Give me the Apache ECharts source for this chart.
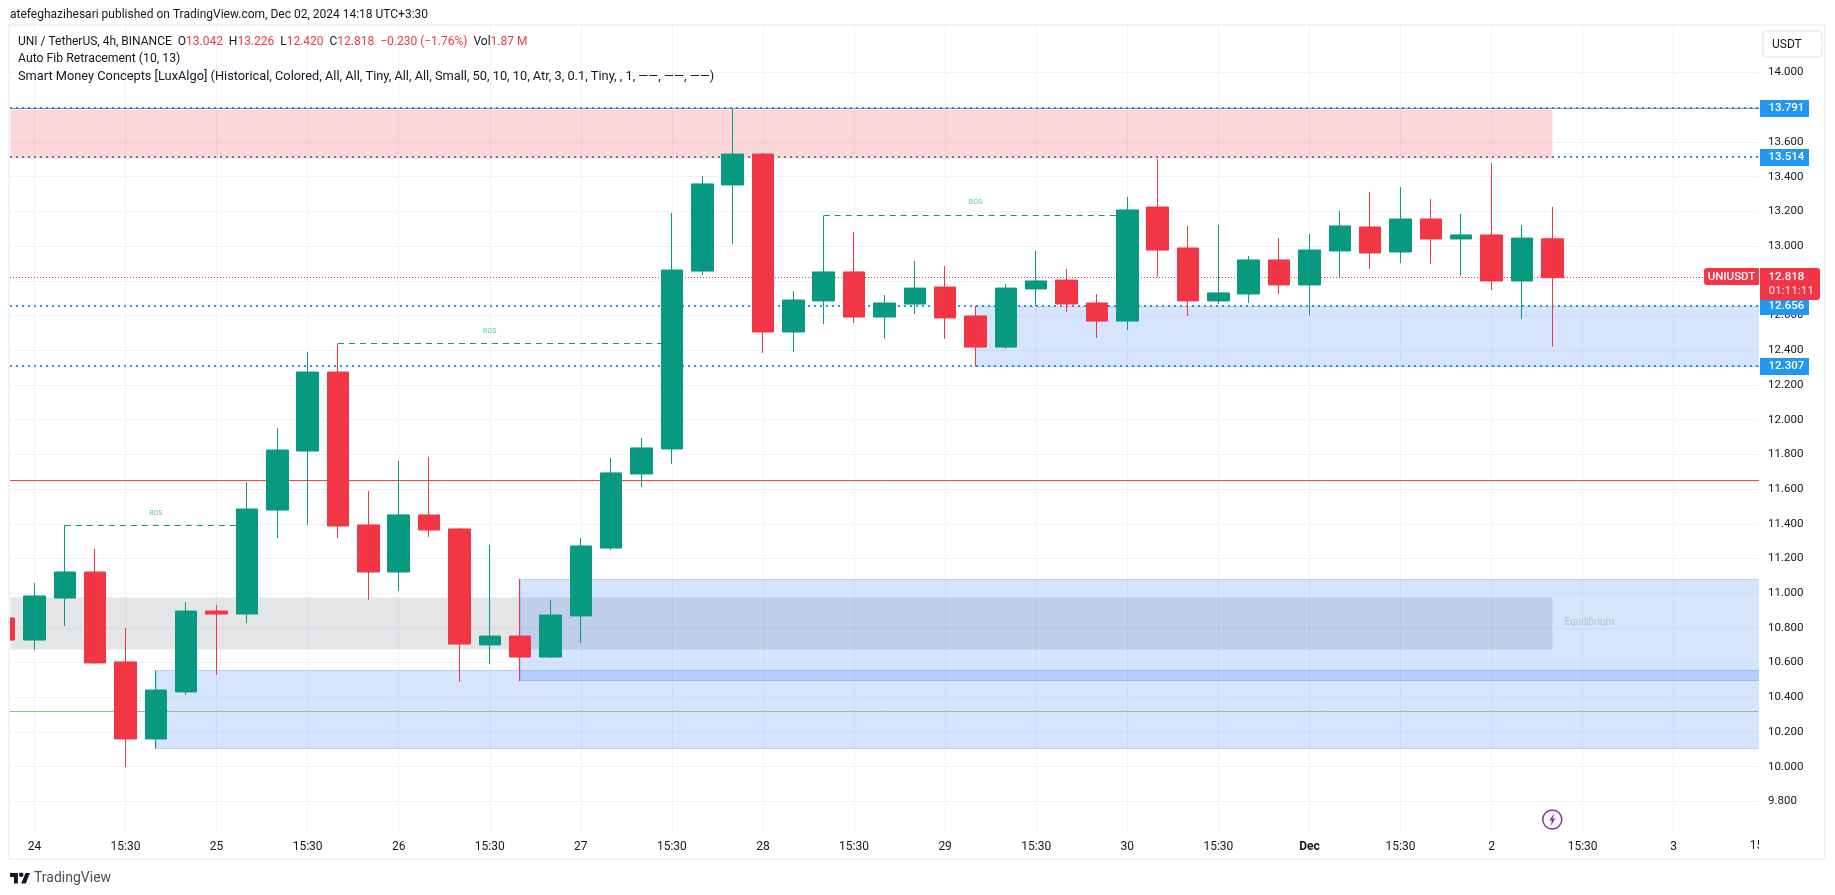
<!DOCTYPE html>
<html>
<head>
<meta charset="utf-8">
<title>UNI / TetherUS</title>
<script src="https://cdn.jsdelivr.net/npm/echarts@6/dist/echarts.min.js"></script>
<style>
  html, body { margin: 0; padding: 0; background: #fff; }
  #chart { width: 1835px; height: 895px; }
</style>
</head>
<body>
<div id="chart"></div>
<script>
// candle number on the x axis, -1 is the one cut off by the left edge
const candleIdx = [-1,0,1,2,3,4,5,6,7,8,9,10,11,12,13,14,15,16,17,18,19,20,21,22,23,24,25,26,27,28,29,30,31,32,33,34,35,36,37,38,39,40,41,42,43,44,45,46,47,48,49,50];
const opens = [10.857,10.730,10.972,11.122,10.604,10.160,10.431,10.897,10.880,11.479,11.819,12.274,11.393,11.122,11.451,11.370,10.702,10.753,10.632,10.869,11.260,11.687,11.831,12.856,13.352,13.530,12.505,12.684,12.851,12.591,12.666,12.764,12.597,12.418,12.753,12.804,12.672,12.568,13.225,12.989,12.684,12.724,12.920,12.776,12.972,13.110,12.966,13.156,13.041,13.064,12.799,13.042];
const closes = [10.730,10.984,11.122,10.598,10.160,10.442,10.897,10.880,11.485,11.825,12.274,11.387,11.122,11.451,11.364,10.707,10.753,10.632,10.874,11.272,11.693,11.837,12.862,13.358,13.530,12.505,12.689,12.851,12.591,12.672,12.758,12.586,12.418,12.758,12.799,12.666,12.568,13.208,12.977,12.684,12.730,12.920,12.776,12.977,13.116,12.960,13.156,13.041,13.064,12.799,13.046,12.818];
const lows = [10.730,10.673,10.811,10.592,9.999,10.102,10.414,10.529,10.828,11.318,11.393,11.318,10.961,11.013,11.324,10.488,10.592,10.494,10.627,10.713,11.249,11.612,11.744,12.833,13.012,12.384,12.390,12.551,12.557,12.465,12.609,12.465,12.307,12.407,12.655,12.620,12.470,12.516,12.822,12.597,12.666,12.672,12.724,12.603,12.822,12.868,12.902,12.897,12.828,12.747,12.580,12.420];
const highs = [10.857,11.059,11.391,11.255,10.800,10.556,10.949,10.932,11.641,11.952,12.390,12.438,11.589,11.762,11.785,11.376,11.278,11.082,10.961,11.318,11.779,11.894,13.191,13.404,13.791,13.536,12.741,13.175,13.081,12.718,12.914,12.885,12.656,12.782,12.972,12.868,12.724,13.283,13.502,13.116,13.121,12.943,13.046,13.070,13.202,13.312,13.340,13.271,13.185,13.479,13.121,13.226];

const xTickPos = [0,3,6,9,12,15,18,21,24,27,30,33,36,39,42,45,48,51,54];
const xTickLabels = ["24","15:30","25","15:30","26","15:30","27","15:30","28","15:30","29","15:30","30","15:30","Dec","15:30","2","15:30","3"];
const yTicks = [9.8,10,10.2,10.4,10.6,10.8,11,11.2,11.4,11.6,11.8,12,12.2,12.4,12.6,12.8,13,13.2,13.4,13.6,13.8,14];

// zones: from candle, to candle, top price, bottom price
const AXIS_L = -0.804, AXIS_R = 56.81;
const zoneFrom = [AXIS_L, AXIS_L, 4, 16, 31];
const zoneTo = [50, 50, AXIS_R, AXIS_R, AXIS_R];
const zoneTop = [13.791, 10.978, 10.556, 11.080, 12.656];
const zoneBottom = [13.506, 10.680, 10.107, 10.496, 12.312];
const zoneKind = ["red", "grey", "blue", "blue", "blue"];

// levels, with the price printed on each tag
const dottedLevels = [13.7955, 13.5132, 12.6547, 12.3090];
const dottedLabels = ["13.791", "13.514", "12.656", "12.307"];
const topLevel = 13.7927;
const lastLevel = 12.819;
const lastLabel = "12.818";
const redLevel = 11.649;
const greenLevel = 10.318;

// BOS lines
const bosFrom = [1, 10, 26];
const bosTo = [7, 21, 36];
const bosPrice = [11.390, 12.4386, 13.1761];
const bosLabelX = [4, 15, 31];
const bosLabelY = [11.46, 12.507, 13.25];

const GREEN = "#089981", RED = "#f23645", BLUE = "#2196f3", INK = "#131722", FONT = "Roboto, sans-serif";

const zoneStyles = {
  red: { fill: "rgba(242,54,69,0.2)", stroke: null },
  grey: { fill: "rgba(120,123,134,0.2)", stroke: null },
  blue: { fill: "rgba(49,121,245,0.2)", stroke: "rgba(49,121,245,0.28)" },
};

const flatLine = (name, a, b, price, color, width, dash, z) => ({
  name, type: "line", z, silent: true, showSymbol: false, symbol: "none",
  data: [[a, price], [b, price]],
  lineStyle: { color, width, type: dash, cap: "butt" },
});

const noteData = [
  ...bosLabelX.map((x, i) => ({
    value: [x, bosLabelY[i], "BOS"],
    label: { fontSize: 7, color: "rgba(8,153,129,0.8)", align: "center", verticalAlign: "middle" },
  })),
  {
    value: [50.4, 10.829, "Equilibrium"],
    label: { fontSize: 10, color: "#b2b5be", align: "left", verticalAlign: "middle" },
  },
];

const series = [
  ...dottedLevels.map((p) => flatLine("level " + p, AXIS_L, AXIS_R, p, BLUE, 2, [2, 4], 1)),
  {
    name: "zones", type: "custom", z: 2, silent: true, clip: true,
    data: zoneFrom.map((f, i) => [f, zoneTo[i], zoneTop[i], zoneBottom[i]]),
    encode: { x: [0, 1], y: [2, 3] },
    renderItem(params, api) {
      const a = api.coord([api.value(0), api.value(2)]);
      const b = api.coord([api.value(1), api.value(3)]);
      const st = zoneStyles[zoneKind[params.dataIndex]];
      return {
        type: "rect",
        shape: { x: Math.round(a[0]) + 0.5, y: Math.round(a[1]) + 0.5, width: Math.round(b[0] - a[0]), height: Math.round(b[1] - a[1]) },
        style: { fill: st.fill, stroke: st.stroke, lineWidth: 1 },
      };
    },
  },
  flatLine("top", AXIS_L, AXIS_R, topLevel, "rgba(80,110,170,0.75)", 1, "solid", 3),
  flatLine("last", AXIS_L, AXIS_R, lastLevel, RED, 1, [1, 2], 3),
  flatLine("red", AXIS_L, AXIS_R, redLevel, "#f44336", 1, "solid", 3),
  flatLine("green", AXIS_L, AXIS_R, greenLevel, "#81c784", 1, "solid", 3),
  ...bosPrice.map((p, i) => flatLine("bos" + i, bosFrom[i], bosTo[i], p, GREEN, 1, [6, 5], 3)),
  {
    name: "UNIUSDT", type: "candlestick", z: 5, barWidth: 22, silent: true, clip: true,
    data: candleIdx.map((x, i) => [x, opens[i], closes[i], lows[i], highs[i]]),
    encode: { x: 0, y: [1, 2, 3, 4] },
    itemStyle: { color: GREEN, color0: RED, borderColor: GREEN, borderColor0: RED, borderWidth: 1 },
  },
  {
    name: "notes", type: "scatter", z: 6, silent: true, symbolSize: 0,
    data: noteData,
    label: { show: true, position: "inside", fontFamily: FONT, formatter: (p) => p.value[2] },
  },
];

const chart = echarts.init(document.getElementById("chart"), null, { renderer: "canvas" });
chart.setOption({
  animation: false,
  backgroundColor: "#fff",
  grid: { left: 10, top: 26, width: 1749, height: 806, containLabel: false },
  tooltip: { show: false },
  xAxis: {
    type: "value", min: AXIS_L, max: AXIS_R,
    axisLine: { show: false },
    axisTick: { show: false, customValues: xTickPos },
    splitLine: { show: true, lineStyle: { color: "#f0f3fa", width: 1 } },
    axisLabel: {
      customValues: xTickPos, margin: 9, fontFamily: FONT, fontSize: 12, color: INK,
      formatter: (v) => {
        const s = xTickLabels[xTickPos.indexOf(v)];
        return s === "Dec" ? "{b|Dec}" : s;
      },
      rich: { b: { fontWeight: "bold", fontFamily: FONT, fontSize: 12, color: INK } },
    },
  },
  yAxis: {
    type: "value", position: "right", min: 9.624, max: 14.268,
    axisLine: { show: false },
    axisTick: { show: false, customValues: yTicks },
    splitLine: { show: true, lineStyle: { color: "#f0f3fa", width: 1 } },
    axisLabel: {
      customValues: yTicks, margin: 9, fontFamily: FONT, fontSize: 11.5, color: INK,
      formatter: (v) => v.toFixed(3),
    },
  },
  series,
});

// overlay: frame, header, price tags, all hung on the axis scale
const py = (price) => chart.convertToPixel({ yAxisIndex: 0 }, price);
const px = (idx) => chart.convertToPixel({ xAxisIndex: 0 }, idx);

const blueTag = (price, i) => {
  const y = Math.round(py(price));
  return [
    { type: "rect", z: 100, shape: { x: 1760, y: y - 8, width: 49, height: 17 }, style: { fill: BLUE } },
    { type: "text", z: 101, x: 1768.5, y: y + 0.5, style: { text: dottedLabels[i], fill: "#fff", font: "500 11.5px " + FONT, verticalAlign: "middle" } },
  ];
};

const lastY = Math.round(py(lastLevel));
const rich = {
  n: { fill: INK, font: "12px " + FONT },
  r: { fill: RED, font: "12px " + FONT },
};

// tradingview mark, drawn in a 36x18 box
const logoX = (v) => 10 + v * 0.563;
const logoY = (v) => 873 + v * 0.583;
const logoPoly = (pts) => pts.map((p) => [logoX(p[0]), logoY(p[1])]);
const boltX = px(50);
const boltPts = [[2, -6.5], [-3, 1], [-0.4, 1], [-1.5, 6.5], [3, -1], [0.4, -1]].map((p) => [boltX + p[0], 819.5 + p[1]]);

chart.setOption({
  graphic: { elements: [
    { type: "rect", z: 96, silent: true, shape: { x: 0, y: 26, width: 9, height: 806 }, style: { fill: "#fff" } },
    { type: "rect", z: 97, silent: true, shape: { x: 9, y: 25, width: 1816, height: 834 }, style: { fill: "none", stroke: "#f0f3fa", lineWidth: 2 } },
    { type: "text", z: 90, x: px(57), y: 846, style: { text: "15:30", fill: INK, font: "12px " + FONT, align: "center", verticalAlign: "middle" } },
    { type: "rect", z: 91, shape: { x: 1759, y: 836, width: 60, height: 22 }, style: { fill: "#fff" } },

    { type: "text", z: 100, x: 10, y: 15, style: { text: "atefeghazihesari published on TradingView.com, Dec 02, 2024 14:18 UTC+3:30", fill: INK, font: "12px " + FONT, verticalAlign: "middle" } },
    { type: "text", z: 100, x: 18, y: 42, style: {
      text: "{n|UNI / TetherUS, 4h, BINANCE  O}{r|13.042}{n|  H}{r|13.226}{n|  L}{r|12.420}{n|  C}{r|12.818}{r|  \u22120.230 (\u22121.76%)}{n|  Vol}{r|1.87 M}",
      rich, verticalAlign: "middle" } },
    { type: "text", z: 100, x: 18, y: 59, style: { text: "Auto Fib Retracement (10, 13)", fill: INK, font: "12.25px " + FONT, verticalAlign: "middle" } },
    { type: "text", z: 100, x: 18, y: 77, style: { text: "Smart Money Concepts [LuxAlgo] (Historical, Colored, All, All, Tiny, All, All, Small, 50, 10, 10, Atr, 3, 0.1, Tiny, , 1, \u2014\u2014, \u2014\u2014, \u2014\u2014)", fill: INK, font: "12.8px " + FONT, verticalAlign: "middle" } },

    { type: "rect", z: 100, shape: { x: 1763, y: 31, width: 59, height: 26, r: 4 }, style: { fill: "#fff", stroke: "#e8eaf2", lineWidth: 1.5 } },
    { type: "text", z: 101, x: 1772, y: 45, style: { text: "USDT", fill: INK, font: "12px " + FONT, verticalAlign: "middle" } },

    ...dottedLevels.flatMap(blueTag),

    { type: "rect", z: 102, shape: { x: 1704, y: lastY - 9, width: 55, height: 17, r: [3, 0, 0, 3] }, style: { fill: RED } },
    { type: "text", z: 103, x: 1731.5, y: lastY, style: { text: "UNIUSDT", fill: "#fff", font: "500 11.5px " + FONT, align: "center", verticalAlign: "middle" } },
    { type: "rect", z: 102, shape: { x: 1760, y: lastY - 9, width: 60, height: 32, r: [0, 3, 3, 0] }, style: { fill: RED } },
    { type: "text", z: 103, x: 1768.5, y: lastY, style: { text: lastLabel, fill: "#fff", font: "500 11.5px " + FONT, verticalAlign: "middle" } },
    { type: "text", z: 103, x: 1768.5, y: lastY + 14.5, style: { text: "01:11:11", fill: "#fbc9cd", font: "500 11.5px " + FONT, verticalAlign: "middle" } },

    { type: "circle", z: 100, shape: { cx: boltX, cy: 819.5, r: 9.5 }, style: { fill: "#fff", stroke: "#9c27b0", lineWidth: 1.5 } },
    { type: "polygon", z: 101, shape: { points: boltPts }, style: { fill: "#9c27b0" } },

    { type: "polygon", z: 100, shape: { points: logoPoly([[0, 0], [14, 0], [14, 18], [7, 18], [7, 7], [0, 7]]) }, style: { fill: INK } },
    { type: "polygon", z: 100, shape: { points: logoPoly([[27.5, 0], [35.5, 0], [28, 18], [20, 18]]) }, style: { fill: INK } },
    { type: "circle", z: 100, shape: { cx: logoX(20), cy: logoY(3), r: 2.3 }, style: { fill: INK } },
    { type: "text", z: 100, x: 34, y: 878, style: { text: "TradingView", fill: "#4a4f5c", font: "14px " + FONT, verticalAlign: "middle" } },
  ] },
});
window.onresize = () => chart.resize();
</script>
</body>
</html>
